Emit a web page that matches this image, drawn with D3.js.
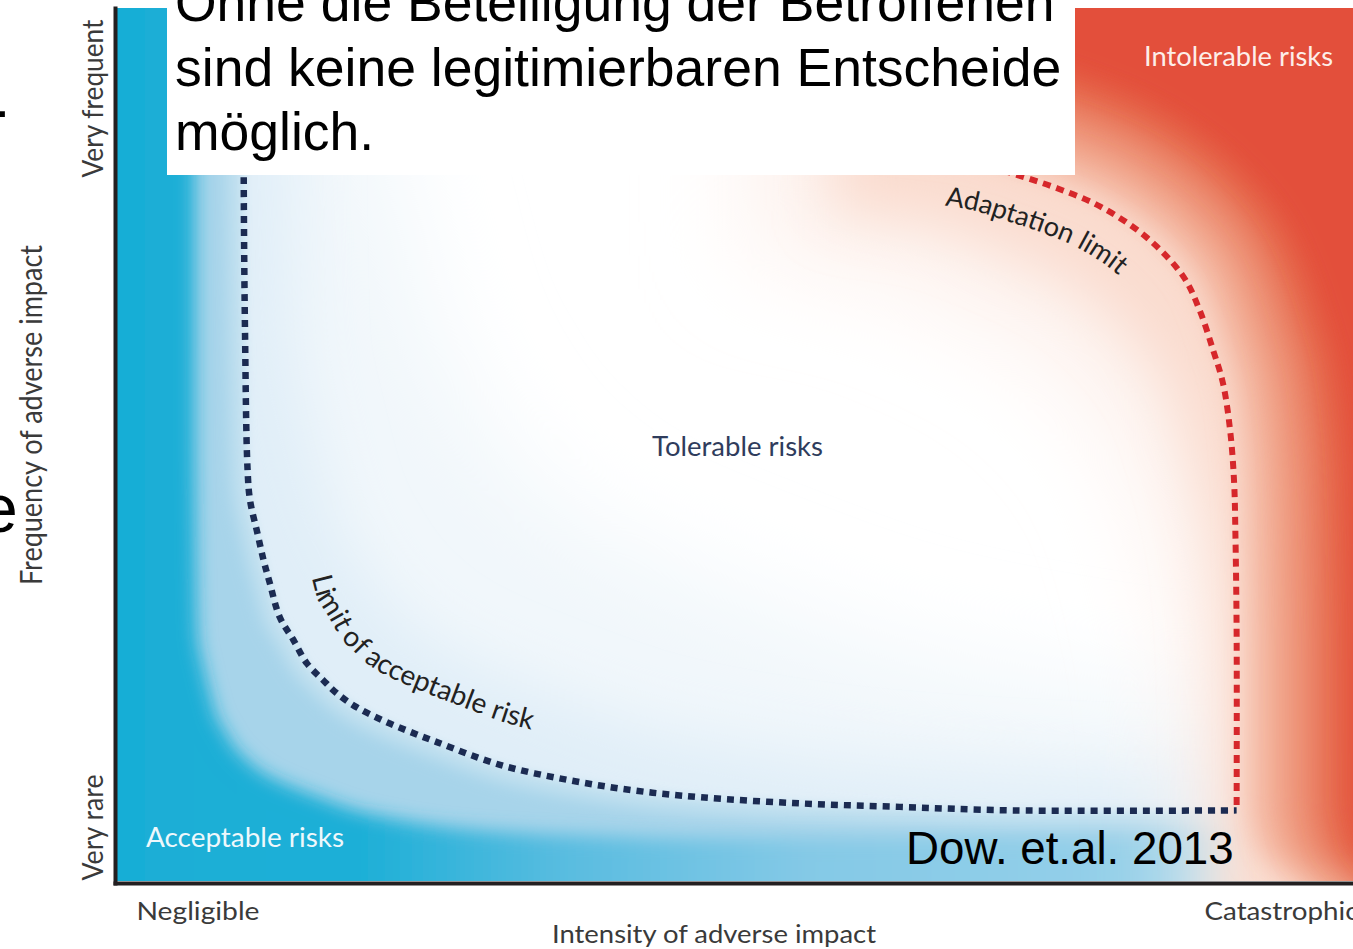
<!DOCTYPE html>
<html>
<head>
<meta charset="utf-8">
<style>
  body { margin: 0; background: #fff; }
  svg { display: block; }
  text { font-family: Lato, "Open Sans", sans-serif; }
  text.slide { font-family: "Liberation Sans", Arial, sans-serif; }
</style>
</head>
<body>
<div id="chart"></div>
<script src="https://cdn.jsdelivr.net/npm/d3@7"></script>
<script>
// ---- data (intensity, frequency on a 0-100 scale) ----
const titleLines = ["Ohne die Beteiligung der Betroffenen", "sind keine legitimierbaren Entscheide", "möglich."];
const sourceNote = "Dow. et.al. 2013";
const cutOffText = [".", "e"];
const frequencyLabels = ["Very rare", "Very frequent"];
const intensityLabels = ["Negligible", "Catastrophic"];
const xTitle = "Intensity of adverse impact";
const yTitle = "Frequency of adverse impact";
const zoneNames = ["Acceptable risks", "Tolerable risks", "Intolerable risks"];
const limitNames = ["Limit of acceptable risk", "Adaptation limit"];

const acceptableLimit = [
  [10.4, 100], [10.4, 80.0], [10.5, 63.2], [10.7, 47.5], [10.9, 43.8], [11.5, 40.0],
  [12.0, 36.9], [12.5, 34.3], [13.3, 30.4], [14.4, 27.8], [15.5, 25.1], [16.8, 23.2],
  [17.9, 21.7], [19.5, 20.1], [21.6, 18.6], [23.8, 17.3], [26.0, 16.1], [31.1, 13.5],
  [36.5, 11.8], [41.8, 10.6], [47.3, 9.8], [55.3, 9.1], [63.4, 8.7], [72.5, 8.3], [90.6, 8.3]
];
const adaptationLimit = [
  [66.2, 83.0], [69.9, 82.2], [72.9, 80.9], [76.1, 79.4], [79.6, 77.3], [83.4, 73.7],
  [86.3, 69.3], [87.6, 65.5], [88.7, 60.9], [89.5, 57.1], [90.1, 51.4], [90.4, 45.7],
  [90.5, 40.0], [90.6, 28.6], [90.6, 8.3]
];

// ---- setup ----
const W = 1353, H = 949;
const svg = d3.select("#chart").append("svg").attr("width", W).attr("height", H);
const defs = svg.append("defs");

const x = d3.scaleLinear().domain([0, 100]).range([115, 1353]);
const y = d3.scaleLinear().domain([0, 100]).range([883, 8]);
const line = d3.line().x(d => x(d[0])).y(d => y(d[1])).curve(d3.curveCatmullRom.alpha(0.5));

defs.append("clipPath").attr("id", "plotClip").append("rect")
  .attr("x", x(0) + 2).attr("y", y(100))
  .attr("width", x(100) - x(0)).attr("height", y(0) - y(100) - 2);

function blur(id, sd) {
  defs.append("filter").attr("id", id).attr("filterUnits", "userSpaceOnUse")
    .attr("x", -400).attr("y", -400).attr("width", 2400).attr("height", 1900)
    .append("feGaussianBlur").attr("stdDeviation", sd);
  return "url(#" + id + ")";
}

const blueStrong = defs.append("linearGradient").attr("id", "blueStrong")
  .attr("gradientUnits", "userSpaceOnUse")
  .attr("x1", x(0)).attr("x2", x(90)).attr("y1", 0).attr("y2", 0);
[[0, "#19aed6"], [0.22, "#1dafd7"], [0.4, "#58bce0"], [0.62, "#84c9e6"], [1, "#9ad2ea"]]
  .forEach(s => blueStrong.append("stop").attr("offset", s[0]).attr("stop-color", s[1]));

const bg = svg.append("g").attr("clip-path", "url(#plotClip)");
bg.append("rect").attr("x", 0).attr("y", 0).attr("width", W).attr("height", H).attr("fill", "#fff");

// ---- limit curves ----
const curves = svg.append("g");
const blueLine = curves.append("path")
  .attr("d", line(acceptableLimit)).attr("fill", "none")
  .attr("stroke", "#1b2b52").attr("stroke-width", 6.5).attr("stroke-dasharray", "7 6");
const redLine = curves.append("path")
  .attr("d", line(adaptationLimit)).attr("fill", "none")
  .attr("stroke", "#d6272b").attr("stroke-width", 6).attr("stroke-dasharray", "8 6");

function sample(node, n) {
  const L = node.getTotalLength();
  return d3.range(n + 1).map(i => {
    const p = node.getPointAtLength(L * i / n);
    return [p.x, p.y];
  });
}
const blueTrace = sample(blueLine.node(), 400);
const redTrace = sample(redLine.node(), 300);

// scale a trace about a corner, then push it along its normal
function shape(trace, corner, sx, sy, off) {
  const sc = trace.map(p => [corner[0] + sx * (p[0] - corner[0]), corner[1] + sy * (p[1] - corner[1])]);
  return sc.map((p, i) => {
    const a = sc[Math.max(0, i - 2)], b = sc[Math.min(sc.length - 1, i + 2)];
    const dx = b[0] - a[0], dy = b[1] - a[1], len = Math.hypot(dx, dy) || 1;
    return [p[0] + off * dy / len, p[1] - off * dx / len];
  });
}
function bluePoly(b) {
  const p = shape(blueTrace, [x(0), y(0)], b.sx, b.sy, -b.k);
  const f = p[0], l = p[p.length - 1];
  const xe = Math.max(l[0] + 60, x(95));
  return [[f[0], -400], ...p, [xe, l[1]], [xe, 1400], [-400, 1400], [-400, -400]];
}
function redPoly(b) {
  const p = shape(redTrace, [x(100), y(100)], b.sx, b.sy, b.k);
  const f = p[0], l = p[p.length - 1];
  return [[f[0] - 60, -400], [f[0] - 60, f[1] - 6], ...p,
          [l[0] + 10, l[1] + 40], [l[0] + 60, l[1] + 80], [1900, 1400], [1900, -400]];
}
const poly = d3.line();

const blueBands = [
  {sx: 2.0, sy: 2.0, k: 0, fill: "#f1f7fb", sd: 50},
  {sx: 1.35, sy: 1.35, k: 0, fill: "#e0eef8", sd: 32},
  {sx: 1, sy: 1, k: 0, fill: "#c3e1f0", sd: 5},
  {sx: 1, sy: 1, k: 16, fill: "#a7d4ea", sd: 8},
  {sx: 0.62, sy: 0.62, k: 0, fill: "url(#blueStrong)", sd: 9}
];
const redBands = [
  {sx: 1.3, sy: 1.7, k: 0, fill: "#fdf1ec", sd: 50},
  {sx: 1.1, sy: 1.4, k: 0, fill: "#fadccf", sd: 28},
  {sx: 1, sy: 1, k: 8, fill: "#f6c3b0", sd: 14},
  {sx: 1, sy: 1, k: 30, fill: "#f1a68c", sd: 15},
  {sx: 1, sy: 1, k: 58, fill: "#eb866a", sd: 15},
  {sx: 1, sy: 1, k: 86, fill: "#e6674c", sd: 13},
  {sx: 1, sy: 1, k: 112, fill: "#e3503a", sd: 12}
];
blueBands.forEach((b, i) => bg.append("path")
  .attr("d", poly(bluePoly(b)) + "Z").attr("fill", b.fill).attr("filter", blur("bb" + i, b.sd)));
redBands.forEach((b, i) => bg.append("path")
  .attr("d", poly(redPoly(b)) + "Z").attr("fill", b.fill).attr("filter", blur("rb" + i, b.sd)));

// ---- curve labels, set on paths parallel to the limits ----
const guide = defs.append("g");
const blueGuide = guide.append("path").attr("id", "acceptGuide")
  .attr("d", d3.line().curve(d3.curveBasis)(shape(blueTrace, [0, 0], 1, 1, 42)));
const redGuide = guide.append("path").attr("id", "adaptGuide")
  .attr("d", d3.line().curve(d3.curveBasis)(shape(redTrace, [0, 0], 1, 1, -47)));
function lengthAt(node, test) {
  const L = node.getTotalLength();
  for (let l = 0; l <= L; l += 1) if (test(node.getPointAtLength(l))) return l;
  return 0;
}
svg.append("text").attr("font-size", 28).attr("fill", "#222")
  .append("textPath").attr("href", "#acceptGuide")
  .attr("startOffset", lengthAt(blueGuide.node(), p => p.y >= y(35)))
  .text(limitNames[0]);
svg.append("text").attr("font-size", 27).attr("fill", "#222")
  .append("textPath").attr("href", "#adaptGuide")
  .attr("startOffset", lengthAt(redGuide.node(), p => p.x >= x(67.0)))
  .text(limitNames[1]);

// ---- zone labels ----
const zones = svg.append("g");
zones.append("text").attr("x", 146).attr("y", 847).attr("font-size", 26).attr("fill", "#eef8fc")
  .attr("textLength", 198).attr("lengthAdjust", "spacingAndGlyphs").text(zoneNames[0]);
zones.append("text").attr("x", 652).attr("y", 456).attr("font-size", 27).attr("fill", "#2f3c5c")
  .attr("textLength", 171).attr("lengthAdjust", "spacingAndGlyphs").text(zoneNames[1]);
zones.append("text").attr("x", 1144).attr("y", 66).attr("font-size", 26).attr("fill", "#fdeee9")
  .attr("textLength", 189).attr("lengthAdjust", "spacingAndGlyphs").text(zoneNames[2]);

// ---- axes ----
const gy = svg.append("g").attr("transform", `translate(${x(0)},0)`)
  .call(d3.axisLeft(y).tickValues([0, 100]).tickFormat((d, i) => frequencyLabels[i]).tickSize(0).tickSizeOuter(0));
gy.select(".domain").attr("stroke", "#231f20").attr("stroke-width", 4).attr("stroke-linecap", "square");
gy.selectAll(".tick text")
  .attr("transform", "rotate(-90)")
  .attr("x", d => d === 100 ? -11 : 3).attr("y", -12).attr("dy", null)
  .attr("text-anchor", d => d === 100 ? "end" : "start")
  .attr("font-size", 29).attr("fill", "#3a3a3a")
  .attr("textLength", d => d === 100 ? 158 : 106).attr("lengthAdjust", "spacingAndGlyphs");

const gx = svg.append("g").attr("transform", `translate(0,${y(0)})`)
  .call(d3.axisBottom(x).tickValues([0, 100]).tickFormat((d, i) => intensityLabels[i]).tickSize(0).tickSizeOuter(0));
gx.select(".domain").attr("stroke", "#231f20").attr("stroke-width", 4).attr("stroke-linecap", "square");
gx.selectAll(".tick text")
  .attr("x", d => d === 0 ? 21 : 5).attr("y", 37).attr("dy", null)
  .attr("text-anchor", d => d === 0 ? "start" : "end")
  .attr("font-size", 25).attr("fill", "#3a3a3a")
  .attr("textLength", d => d === 0 ? 123 : 154).attr("lengthAdjust", "spacingAndGlyphs");

svg.append("text").attr("transform", "translate(42,415) rotate(-90)").attr("text-anchor", "middle")
  .attr("font-size", 30).attr("fill", "#3a3a3a")
  .attr("textLength", 340).attr("lengthAdjust", "spacingAndGlyphs").text(yTitle);
svg.append("text").attr("x", 714).attr("y", 943).attr("text-anchor", "middle")
  .attr("font-size", 25).attr("fill", "#3a3a3a")
  .attr("textLength", 324).attr("lengthAdjust", "spacingAndGlyphs").text(xTitle);

// ---- slide overlay ----
svg.append("rect").attr("x", 167).attr("y", 0).attr("width", 908).attr("height", 175).attr("fill", "#fff");
svg.append("g").selectAll("text").data(titleLines).join("text")
  .attr("class", "slide").attr("x", 175).attr("y", (d, i) => 21 + i * 64.5)
  .attr("font-size", 53.5).attr("fill", "#000").text(d => d);
svg.append("text").attr("class", "slide").attr("x", 906).attr("y", 864)
  .attr("font-size", 45.7).attr("fill", "#000").text(sourceNote);
svg.append("text").attr("class", "slide").attr("x", -5).attr("y", 117)
  .attr("font-size", 53).attr("fill", "#000").text(cutOffText[0]);
svg.append("text").attr("class", "slide").attr("x", -20).attr("y", 532)
  .attr("font-size", 68).attr("fill", "#000").text(cutOffText[1]);
</script>
</body>
</html>
